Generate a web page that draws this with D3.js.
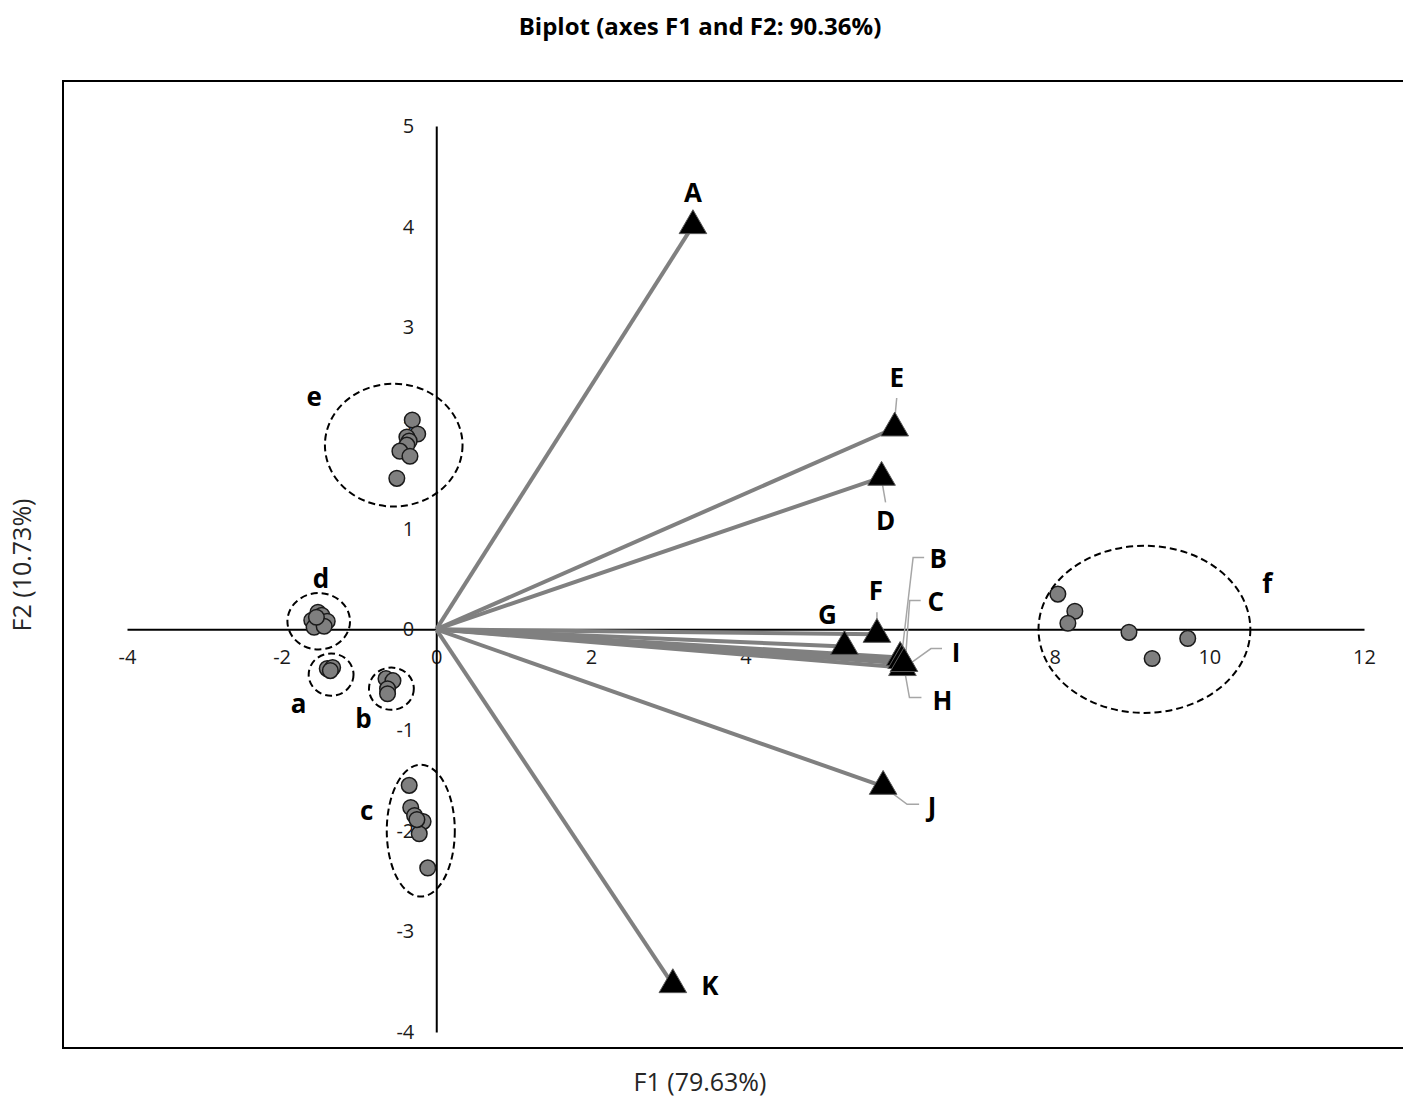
<!DOCTYPE html>
<html lang="en">
<head>
<meta charset="UTF-8">
<title>Biplot</title>
<script src="https://cdn.jsdelivr.net/npm/d3@7/dist/d3.min.js"></script>
<style>
  body { margin: 0; background: #fff; }
  text { font-family: "Open Sans", sans-serif; }
</style>
</head>
<body>
<div id="chart"></div>
<script>
// variables (active columns) -> triangles + vectors from the origin
const varNames = ['A', 'B', 'C', 'D', 'E', 'F', 'G', 'H', 'I', 'J', 'K'];
const varF1 = [3.32, 6.00, 6.02, 5.76, 5.93, 5.70, 5.28, 6.03, 6.05, 5.78, 3.06];
const varF2 = [4.01, -0.28, -0.31, 1.51, 2.00, -0.05, -0.17, -0.38, -0.34, -1.56, -3.53];

// observations
const obsGroup = ['e','e','e','e','e','e','e','e',
                  'd','d','d','d','d','d','d',
                  'a','a','a',
                  'b','b','b','b',
                  'c','c','c','c','c','c','c',
                  'f','f','f','f','f','f'];
const obsF1 = [-0.31, -0.24, -0.38, -0.35, -0.38, -0.47, -0.34, -0.51,
               -1.61, -1.53, -1.48, -1.41, -1.58, -1.45, -1.55,
               -1.41, -1.34, -1.37,
               -0.65, -0.56, -0.63, -0.63,
               -0.35, -0.33, -0.28, -0.17, -0.22, -0.11, -0.25,
               8.04, 8.26, 8.17, 8.96, 9.72, 9.26];
const obsF2 = [2.08, 1.94, 1.91, 1.87, 1.83, 1.77, 1.72, 1.50,
               0.09, 0.17, 0.14, 0.08, 0.02, 0.03, 0.12,
               -0.39, -0.38, -0.41,
               -0.49, -0.51, -0.59, -0.64,
               -1.55, -1.77, -1.85, -1.91, -2.03, -2.37, -1.89,
               0.35, 0.18, 0.06, -0.03, -0.09, -0.29];

// groups drawn as dashed ellipses (centre and radii in axis units)
const grpNames = ['e', 'd', 'a', 'b', 'c', 'f'];
const grpCx = [-0.55, -1.52, -1.36, -0.58, -0.20, 9.16];
const grpCy = [1.83, 0.08, -0.45, -0.59, -2.00, 0.00];
const grpRx = [0.89, 0.405, 0.29, 0.29, 0.44, 1.37];
const grpRy = [0.61, 0.28, 0.21, 0.21, 0.655, 0.83];
const grpLabX = [-1.58, -1.49, -1.78, -0.94, -0.90, 10.75];
const grpLabY = [2.32, 0.51, -0.73, -0.88, -1.79, 0.46];

const xTicks = [-4, -2, 0, 2, 4, 6, 8, 10, 12];
const yTicks = [-4, -3, -2, -1, 0, 1, 2, 3, 4, 5];

// label placement for each variable (pixel offsets from the triangle)
// lead = leader polyline points, also as offsets
const varLabel = {
  A: { dx: 0, dy: -34 },
  B: { dx: 38, dy: -100, lead: [[2, -6], [13, -100], [24, -100]] },
  C: { dx: 34, dy: -60, lead: [[4, -4], [8, -60], [19, -60]] },
  D: { dx: 4, dy: 43, lead: [[0, 2], [4, 25]] },
  E: { dx: 2, dy: -51, lead: [[0, -8], [2, -30]] },
  F: { dx: -1, dy: -44, lead: [[0, -14], [0, -22]] },
  G: { dx: -17, dy: -32 },
  H: { dx: 40, dy: 32, lead: [[2, 2], [7, 30], [19, 30]] },
  I: { dx: 52, dy: -12, lead: [[6, 0], [27, -15], [38, -15]] },
  J: { dx: 49, dy: 20, lead: [[0, 0], [24, 18], [36, 18]] },
  K: { dx: 37, dy: 0 }
};

const W = 1403, H = 1102;
const svg = d3.select('#chart').append('svg')
  .attr('width', W).attr('height', H);

const x = d3.scaleLinear().domain([-4, 12]).range([127, 1364]);
const y = d3.scaleLinear().domain([-4, 5]).range([1032, 126]);

// frame
svg.append('rect')
  .attr('x', 63).attr('y', 81)
  .attr('width', 1360).attr('height', 967)
  .attr('fill', 'none').attr('stroke', '#000').attr('stroke-width', 2);

// title + axis titles
svg.append('text')
  .attr('x', 700).attr('y', 35)
  .attr('text-anchor', 'middle')
  .style('font-size', '24px').style('font-weight', 'bold')
  .text('Biplot (axes F1 and F2: 90.36%)');

svg.append('text')
  .attr('x', 700).attr('y', 1091)
  .attr('text-anchor', 'middle')
  .style('font-size', '25px').attr('fill', '#262626')
  .text('F1 (79.63%)');

svg.append('text')
  .attr('transform', 'translate(31,565) rotate(-90)')
  .attr('text-anchor', 'middle')
  .style('font-size', '25px').attr('fill', '#262626')
  .text('F2 (10.73%)');

// axes through the origin
const fmt = function (d) { return String(d); };
const xAxis = svg.append('g')
  .attr('transform', 'translate(0,' + y(0) + ')')
  .call(d3.axisBottom(x).tickValues(xTicks).tickFormat(fmt).tickSize(0).tickPadding(20));
const yAxis = svg.append('g')
  .attr('transform', 'translate(' + x(0) + ',0)')
  .call(d3.axisLeft(y).tickValues(yTicks).tickFormat(fmt).tickSize(0).tickPadding(22));
[xAxis, yAxis].forEach(function (g) {
  g.select('.domain').attr('stroke', '#000').attr('stroke-width', 2);
  g.selectAll('text')
    .style('font-size', '20px')
    .style('font-family', '"Open Sans", sans-serif')
    .attr('fill', '#1a1a1a');
});

// vectors
svg.selectAll('.vec')
  .data(varNames)
  .enter()
  .append('line')
  .attr('class', 'vec')
  .attr('x1', x(0)).attr('y1', y(0))
  .attr('x2', function (d, i) { return x(varF1[i]); })
  .attr('y2', function (d, i) { return y(varF2[i]); })
  .attr('stroke', '#808080')
  .attr('stroke-width', 4);

// leader lines
const line = d3.line();
varNames.forEach(function (n, i) {
  const lab = varLabel[n];
  if (!lab.lead) return;
  const px = x(varF1[i]), py = y(varF2[i]);
  svg.append('path')
    .attr('d', line(lab.lead.map(function (p) { return [px + p[0], py + p[1]]; })))
    .attr('fill', 'none')
    .attr('stroke', '#a6a6a6')
    .attr('stroke-width', 1.5);
});

// triangles
const tri = d3.symbol().type(d3.symbolTriangle).size(330);
svg.selectAll('.tri')
  .data(varNames)
  .enter()
  .append('path')
  .attr('class', 'tri')
  .attr('d', tri)
  .attr('transform', function (d, i) {
    return 'translate(' + x(varF1[i]) + ',' + y(varF2[i]) + ')';
  })
  .attr('fill', '#000')
  .attr('stroke', '#595959')
  .attr('stroke-width', 1);

// variable labels
svg.selectAll('.vlab')
  .data(varNames)
  .enter()
  .append('text')
  .attr('class', 'vlab')
  .attr('x', function (d, i) { return x(varF1[i]) + varLabel[d].dx; })
  .attr('y', function (d, i) { return y(varF2[i]) + varLabel[d].dy; })
  .attr('text-anchor', 'middle')
  .attr('dominant-baseline', 'central')
  .style('font-size', '26px').style('font-weight', 'bold')
  .text(function (d) { return d; });

// observations
svg.selectAll('.obs')
  .data(obsGroup)
  .enter()
  .append('circle')
  .attr('class', 'obs')
  .attr('cx', function (d, i) { return x(obsF1[i]); })
  .attr('cy', function (d, i) { return y(obsF2[i]); })
  .attr('r', 7.8)
  .attr('fill', '#7f7f7f')
  .attr('stroke', '#1a1a1a')
  .attr('stroke-width', 1.5);

// group ellipses
const pxPerX = x(1) - x(0), pxPerY = y(0) - y(1);
svg.selectAll('.grp')
  .data(grpNames)
  .enter()
  .append('ellipse')
  .attr('class', 'grp')
  .attr('cx', function (d, i) { return x(grpCx[i]); })
  .attr('cy', function (d, i) { return y(grpCy[i]); })
  .attr('rx', function (d, i) { return grpRx[i] * pxPerX; })
  .attr('ry', function (d, i) { return grpRy[i] * pxPerY; })
  .attr('fill', 'none')
  .attr('stroke', '#000')
  .attr('stroke-width', 2)
  .attr('stroke-dasharray', '7,4');

svg.selectAll('.glab')
  .data(grpNames)
  .enter()
  .append('text')
  .attr('class', 'glab')
  .attr('x', function (d, i) { return x(grpLabX[i]); })
  .attr('y', function (d, i) { return y(grpLabY[i]); })
  .attr('text-anchor', 'middle')
  .attr('dominant-baseline', 'central')
  .style('font-size', '26px').style('font-weight', 'bold')
  .text(function (d) { return d; });
</script>
</body>
</html>
